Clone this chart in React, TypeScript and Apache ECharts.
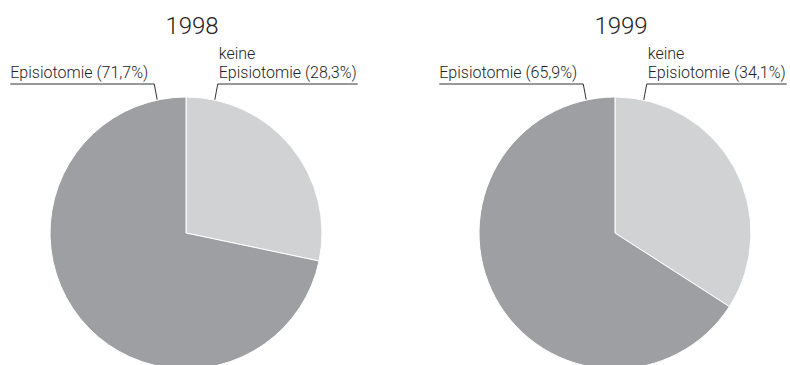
import React, { useEffect, useRef } from "react";
import * as echarts from "echarts";

const years = ["1998", "1999"];
const sliceNames = ["keine\nEpisiotomie", "Episiotomie"];
const values1998 = [28.3, 71.7];
const values1999 = [34.1, 65.9];
const seriesValues = [values1998, values1999];
const sliceColors = ["#d1d2d4", "#9e9fa3"];

const W = 790;
const H = 365;
const centers: [number, number][] = [
  [186, 233],
  [615, 233],
];
const R = 136;
const FONT = "Roboto, 'Liberation Sans', Arial, sans-serif";

export default function App() {
  const ref = useRef<HTMLDivElement>(null);
  useEffect(() => {
    if (!ref.current) return;
    const chart = echarts.init(ref.current, null, { renderer: "svg" });
    const fmt = (v: number) => v.toFixed(1).replace(".", ",");
    const ang = (12.2 * Math.PI) / 180;
    const lineY = 84;

    const labelLayout = (params: any) => {
      const [cx, cy] = centers[params.seriesIndex];
      const w = params.labelRect.width;
      const side = params.dataIndex === 0 ? 1 : -1; // keine on right
      const ex = cx + side * R * Math.sin(ang);
      const ey = cy - R * Math.cos(ang);
      const elbowX = ex + side * 3;
      if (side > 0) {
        const x = elbowX + 1;
        return {
          x,
          y: lineY - 2,
          align: "left",
          verticalAlign: "bottom",
          labelLinePoints: [
            [ex, ey],
            [elbowX, lineY],
            [x + w + 1, lineY],
          ],
        };
      } else {
        const x = elbowX - w - 6;
        return {
          x,
          y: lineY - 2,
          align: "left",
          verticalAlign: "bottom",
          labelLinePoints: [
            [ex, ey],
            [elbowX, lineY],
            [x, lineY],
          ],
        };
      }
    };

    chart.setOption({
      animation: false,
      backgroundColor: "#ffffff",
      title: years.map((y, i) => ({
        text: y,
        left: centers[i][0] + 1,
        top: 9,
        textAlign: "center",
        textStyle: {
          fontFamily: FONT,
          fontWeight: 300,
          fontSize: 24,
          color: "#222222",
        },
      })),
      series: years.map((y, i) => ({
        type: "pie",
        name: y,
        center: centers[i],
        radius: R,
        startAngle: 90,
        clockwise: true,
        avoidLabelOverlap: false,
        silent: true,
        itemStyle: { borderColor: "#ffffff", borderWidth: 1 },
        label: {
          show: true,
          formatter: (p: any) => `${p.name} (${fmt(p.value)}%)`,
          fontFamily: FONT,
          fontWeight: 300,
          fontSize: 16,
          lineHeight: 19,
          color: "#222222",
        },
        labelLine: {
          show: true,
          lineStyle: { color: "#333333", width: 1 },
        },
        labelLayout,
        data: sliceNames.map((n, k) => ({
          name: n,
          value: seriesValues[i][k],
          itemStyle: { color: sliceColors[k] },
        })),
      })),
    });
    return () => chart.dispose();
  }, []);
  return (
    <div
      ref={ref}
      style={{ position: "fixed", left: 0, top: 0, width: W, height: H }}
    />
  );
}
